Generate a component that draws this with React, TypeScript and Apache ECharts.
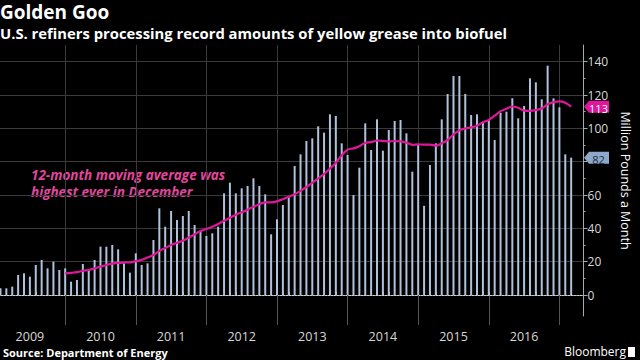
import React, { useEffect, useRef } from "react";
import * as echarts from "echarts";

// ---- data (million pounds of yellow grease per month) ----
const startYear = 2009;
const yearLabels = ["2009", "2010", "2011", "2012", "2013", "2014", "2015", "2016"];

const shipments = [
  // 2009
  4, 4, 5, 12, 13, 11, 18, 21, 16, 20, 15, 16,
  // 2010
  8, 9, 18.6, 14.6, 21, 29, 29, 30, 27.4, 19, 13.4, 25,
  // 2011
  18, 19, 33, 52, 41, 50.4, 45, 47.4, 50.4, 42, 38.6, 35.4,
  // 2012
  37, 41, 61, 67.4, 61, 64, 65.4, 70, 65.4, 60.4, 36.4, 45.4,
  // 2013
  54, 58.4, 77.4, 84.4, 92.4, 94, 101.2, 97.4, 108.4, 107.4, 91, 84,
  // 2014
  60, 76.4, 103, 87, 105.4, 86.6, 99, 104.4, 105, 97, 74, 90,
  // 2015
  53.5, 78, 91, 105.4, 120.6, 131.4, 131.4, 120.6, 108, 108.4, 104, 105,
  // 2016
  93, 109.4, 110, 118, 106, 113.4, 130, 127.6, 117.4, 137.6, 118, 112.6,
  // 2017
  84.4, 82.4,
];

// 12-month moving average, first value in Dec 2009
const movingAvg = [
  null, null, null, null, null, null, null, null, null, null, null,
  13,
  13.3, 13.7, 14.5, 15, 16, 17, 18, 18.8, 19.3, 19.5, 19.6, 20.3,
  21, 22.5, 24, 26.5, 28.2, 30, 31.3, 32.5, 34.5, 36.4, 38.4, 39.6,
  41, 42.6, 44.6, 46.3, 48.2, 49.6, 51.2, 53, 54.5, 55.6, 55.6, 56.2,
  57.5, 59, 60.5, 62.5, 64.8, 67.3, 70, 72.6, 75.9, 79.4, 83.8, 87.2,
  88, 89.3, 91.3, 91.7, 92.7, 92.5, 92.1, 92.4, 92.2, 91.4, 90.1, 90.4,
  90.2, 90.2, 89.6, 91, 93, 96.3, 98.8, 99.9, 100.6, 101.6, 103.7, 105,
  107.6, 110.3, 111.8, 113.1, 112.3, 110.6, 110.5, 111, 111.9, 114.4, 115.7, 116.2,
  115.4, 113,
];

const monthLabels = shipments.map((_, i) => {
  const y = startYear + Math.floor(i / 12);
  const m = (i % 12) + 1;
  return `${y}-${m < 10 ? "0" : ""}${m}`;
});

const yTickValues = [0, 20, 40, 60, 80, 100, 120, 140];
// the 80 label sits under the last-value tag in the original
const yLabelValues = [0, 20, 40, 60, 100, 120, 140];
const yMinorValues = [0, 10, 20, 30, 40, 50, 60, 70, 80, 90, 100, 110, 120, 130, 140];

// x coordinate: month index + 1 (value plotted at month end); year boundary every 12
const xOf = (i: number) => i + 1;
const X_MIN = 0.92;
const X_MAX = 100.1;
const yearBoundaries = yearLabels.map((_, j) => 12 * (j + 1));
const yearCenters = yearLabels.map((_, j) => 12 * j + 6);
const monthTicks = monthLabels.map((_, i) => xOf(i));

const FONT = "'Open Sans', 'Noto Sans', sans-serif";
const GRID_COLOR = "#3a3a3a";

export default function App() {
  const ref = useRef<HTMLDivElement>(null);

  useEffect(() => {
    document.body.style.margin = "0";
    document.body.style.background = "#000";
    if (!ref.current) return;
    const chart = echarts.init(ref.current, undefined, { renderer: "svg" });

    const barData = shipments.map((v, i) => [xOf(i), v]);
    const maData = movingAvg
      .map((v, i) => (v === null ? null : [xOf(i), v]))
      .filter((d) => d !== null) as number[][];
    const lastBar = barData[barData.length - 1];
    const lastMa = maData[maData.length - 1];
    const tagPath = "path://M0,7 L6,0 L30,0 L30,14 L6,14 Z";

    chart.setOption({
      animation: false,
      backgroundColor: "#000",
      title: [
        {
          text: "Golden Goo",
          left: 0,
          top: 1,
          padding: 0,
          textStyle: { color: "#fff", fontSize: 19, lineHeight: 22, fontWeight: "bold", fontFamily: FONT },
        },
        {
          text: "U.S. refiners processing record amounts of yellow grease into biofuel",
          left: 0,
          top: 24,
          padding: 0,
          textStyle: { color: "#fff", fontSize: 14.8, lineHeight: 18, fontWeight: "bold", fontFamily: FONT },
        },
      ],
      grid: { left: 0, right: 43, top: 45, bottom: 44, containLabel: false },
      xAxis: [
        {
          type: "value",
          min: X_MIN,
          max: X_MAX,
          position: "bottom",
          axisLine: { show: true, lineStyle: { color: "#d0d0d0", width: 1 } },
          axisTick: {
            show: true,
            inside: true,
            length: 3,
            customValues: monthTicks,
            lineStyle: { color: "#bbb" },
          },
          axisLabel: {
            show: true,
            customValues: yearCenters,
            formatter: (v: number) => yearLabels[Math.round((v - 6) / 12)] ?? "",
            color: "#d8d8d8",
            fontSize: 12.5,
            fontFamily: FONT,
            margin: 14,
          },
          splitLine: { show: false },
        },
        {
          type: "value",
          min: X_MIN,
          max: X_MAX,
          position: "bottom",
          axisLine: { show: false },
          axisTick: {
            show: true,
            inside: false,
            length: 30,
            customValues: yearBoundaries,
            lineStyle: { color: "#555" },
          },
          axisLabel: { show: false },
          splitLine: { show: true, lineStyle: { color: GRID_COLOR, width: 1 } },
        },
      ],
      yAxis: [
        {
          type: "value",
          position: "right",
          min: -12.6,
          max: 150,
          name: "Million Pounds a Month",
          nameLocation: "middle",
          nameRotate: -90,
          nameGap: 34,
          nameTextStyle: { color: "#fff", fontSize: 12.5, fontFamily: FONT },
          axisLine: { show: true, lineStyle: { color: "#aaa" } },
          axisTick: { show: true, length: 4, customValues: yTickValues, lineStyle: { color: "#aaa" } },
          axisLabel: {
            show: true,
            customValues: yLabelValues,
            color: "#d8d8d8",
            fontSize: 12,
            lineHeight: 10,
            fontFamily: FONT,
            margin: 4,
          },
          splitLine: { show: true, lineStyle: { color: GRID_COLOR, width: 1 } },
        },
        {
          type: "value",
          position: "right",
          min: -12.6,
          max: 150,
          axisLine: { show: false },
          axisTick: { show: true, length: 2, customValues: yMinorValues, lineStyle: { color: "#aaa" } },
          axisLabel: { show: false },
          splitLine: { show: false },
        },
      ],
      series: [
        {
          type: "bar",
          name: "Monthly",
          xAxisIndex: 0,
          yAxisIndex: 0,
          data: barData,
          barWidth: 2,
          itemStyle: { color: "#b0c1dc" },
          markLine: {
            silent: true,
            symbol: "none",
            label: { show: false },
            lineStyle: { color: "#999", type: [1, 2], width: 1 },
            data: [{ yAxis: 0 }],
          },
          markPoint: {
            symbol: tagPath,
            symbolSize: [25, 12],
            symbolOffset: [13, 0],
            itemStyle: { color: "#8ea8c9" },
            label: {
              show: true,
              color: "#1c2b44",
              fontSize: 11,
              lineHeight: 9,
              fontFamily: FONT,
              offset: [2, 1.5],
              formatter: () => String(Math.round(lastBar[1])),
            },
            data: [{ coord: [X_MAX, lastBar[1]], value: Math.round(lastBar[1]) }],
          },
        },
        {
          type: "line",
          name: "12-month moving average",
          xAxisIndex: 0,
          yAxisIndex: 0,
          data: maData,
          smooth: 0.3,
          showSymbol: false,
          lineStyle: { color: "#e0179b", width: 2.2 },
          markPoint: {
            symbol: tagPath,
            symbolSize: [25, 12],
            symbolOffset: [13, 0],
            itemStyle: { color: "#e0179b" },
            label: {
              show: true,
              color: "#fff",
              fontSize: 11,
              lineHeight: 9,
              fontFamily: FONT,
              offset: [2, 1.5],
              formatter: () => String(Math.round(lastMa[1])),
            },
            data: [{ coord: [X_MAX, lastMa[1]], value: Math.round(lastMa[1]) }],
          },
        },
      ],
      graphic: [
        {
          type: "text",
          left: 31,
          top: 168,
          style: {
            text: "12-month moving average was",
            fill: "#e2479e",
            font: `italic bold 13.5px ${FONT}`,
            lineHeight: 14,
          },
        },
        {
          type: "text",
          left: 31,
          top: 184.5,
          style: {
            text: "highest ever in December",
            fill: "#e2479e",
            font: `italic bold 13.5px ${FONT}`,
            lineHeight: 14,
          },
        },
        {
          type: "text",
          left: 3,
          top: 347,
          style: {
            text: "Source: Department of Energy",
            fill: "#fff",
            font: `bold 11px ${FONT}`,
          },
        },
        {
          type: "text",
          right: 14,
          top: 345,
          style: {
            text: "Bloomberg",
            fill: "#fff",
            font: `12px ${FONT}`,
          },
        },
        {
          type: "rect",
          right: 5,
          top: 347,
          shape: { width: 7, height: 10 },
          style: { fill: "#fff" },
        },
      ],
    });

    return () => chart.dispose();
  }, []);

  return (
    <div
      ref={ref}
      style={{ position: "absolute", left: 0, top: 0, width: 640, height: 360, background: "#000" }}
    />
  );
}
